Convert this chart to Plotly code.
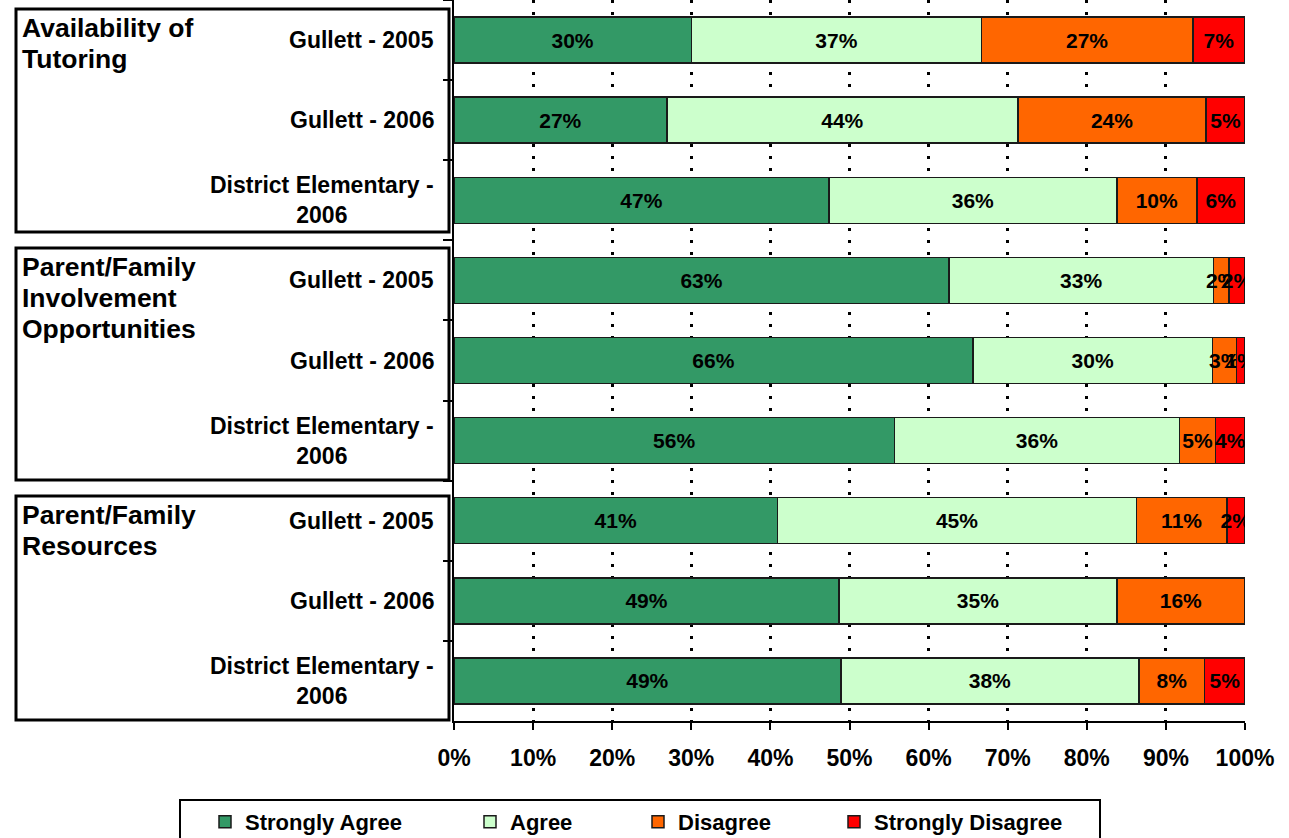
import plotly.graph_objects as go

# ---------------- data ----------------
groups = ["Availability of<br>Tutoring",
          "Parent/Family<br>Involvement<br>Opportunities",
          "Parent/Family<br>Resources"]
rows = ["Gullett - 2005", "Gullett - 2006", "District Elementary -<br>2006"]
series_names = ["Strongly Agree", "Agree", "Disagree", "Strongly Disagree"]

strongly_agree    = [30.0, 26.9, 47.4, 62.6, 65.6, 55.7, 40.9, 48.7, 48.9]
agree             = [36.7, 44.4, 36.4, 33.4, 30.3, 36.0, 45.4, 35.1, 37.7]
disagree          = [26.7, 23.8, 10.1, 2.0, 3.0, 4.6, 11.4, 16.2, 8.3]
strongly_disagree = [6.6, 4.9, 6.1, 2.0, 1.1, 3.7, 2.3, 0.0, 5.1]

x_ticks = [0, 10, 20, 30, 40, 50, 60, 70, 80, 90, 100]
x_tick_labels = ["0%", "10%", "20%", "30%", "40%", "50%", "60%", "70%", "80%", "90%", "100%"]

# ---------------- styling ----------------
colors = ["#339966", "#CCFFCC", "#FF6600", "#FF0000"]
FONT = "Liberation Sans, Arial, sans-serif"
W, H = 1289, 838
L, R, T, B = 454, 44, 0, 117
PW, PH = W - L - R, H - T - B


def px_x(px):
    return (px - L) / PW


def px_y(py):
    return (H - B - py) / PH


# unique category keys
keys = [f"{g}|{r}" for g in groups for r in rows]
row_labels = [r for g in groups for r in rows]

fig = go.Figure()
all_series = [strongly_agree, agree, disagree, strongly_disagree]
legend_lefts = [205, 470, 638, 834]
legend_ids = ["legend", "legend2", "legend3", "legend4"]
for i, (name, vals, col) in enumerate(zip(series_names, all_series, colors)):
    fig.add_trace(go.Bar(
        y=keys, x=vals, name=name, orientation="h",
        marker=dict(color=col, line=dict(color="#1a1a1a", width=1.5)),
        text=[f"{v:.0f}%" if v > 0 else "" for v in vals],
        textposition="inside", insidetextanchor="middle",
        textangle=0, constraintext="none",
        textfont=dict(family=FONT, size=21, color="black", weight="bold"),
        legend=legend_ids[i],
        hoverinfo="skip",
    ))

# legends (one per series for spacing as in reference)
leg_common = dict(orientation="h", yanchor="middle", xanchor="left",
                  bgcolor="rgba(0,0,0,0)", borderwidth=0,
                  font=dict(family=FONT, size=22, color="black", weight="bold"))
layout_legends = {}
for lid, left in zip(legend_ids, legend_lefts):
    layout_legends[lid] = dict(leg_common, x=px_x(left), y=px_y(822))

# row label annotations
annotations = []
for k, lab in zip(keys, row_labels):
    annotations.append(dict(
        x=px_x(436), xref="paper", y=k, yref="y",
        text=lab, showarrow=False, xanchor="right", yanchor="middle",
        align="center",
        font=dict(family=FONT, size=23, color="black", weight="bold")))

# group boxes & labels
box_tops = [9, 248, 496]
box_bottoms = [232, 480, 720]
shapes = []
for g, t, b in zip(groups, box_tops, box_bottoms):
    shapes.append(dict(type="rect", xref="paper", yref="paper",
                       x0=px_x(16), x1=px_x(449), y0=px_y(b), y1=px_y(t),
                       line=dict(color="black", width=3), fillcolor="rgba(0,0,0,0)"))
    for j, line in enumerate(g.split("<br>")):
        annotations.append(dict(
            x=px_x(20), xref="paper", y=px_y(t + 19 + 31 * j), yref="paper",
            text=line, showarrow=False, xanchor="left", yanchor="middle", align="left",
            font=dict(family=FONT, size=26.5, color="black", weight="bold")))

# legend box
shapes.append(dict(type="rect", xref="paper", yref="paper",
                   x0=px_x(180), x1=px_x(1100), y0=px_y(850), y1=px_y(800),
                   line=dict(color="black", width=2), fillcolor="rgba(0,0,0,0)"))

fig.update_layout(
    width=W, height=H,
    margin=dict(l=L, r=R, t=T, b=B, autoexpand=False),
    barmode="stack", bargap=0.426,
    plot_bgcolor="white", paper_bgcolor="white",
    font=dict(family=FONT, color="black"),
    shapes=shapes, annotations=annotations,
    showlegend=True,
    **layout_legends,
)
fig.update_xaxes(
    range=[0, 100], tickvals=x_ticks, ticktext=x_tick_labels,
    showgrid=True, gridcolor="black", gridwidth=2.5, griddash="3px,9px",
    showline=True, linecolor="black", linewidth=2,
    ticks="outside", ticklen=7, tickwidth=2, tickcolor="black",
    ticklabelstandoff=8,
    tickfont=dict(family=FONT, size=23, color="black", weight="bold"),
    zeroline=False, fixedrange=True,
)
fig.update_yaxes(
    type="category", categoryorder="array", categoryarray=keys,
    autorange="reversed", showticklabels=False,
    tickson="boundaries", ticks="outside", ticklen=9, tickwidth=2, tickcolor="black",
    showline=True, linecolor="black", linewidth=2, showgrid=False,
    fixedrange=True,
)

fig.write_html(
    "out.html",
    config={"displayModeBar": False},
    post_script="document.body.style.margin='0';document.body.style.overflow='hidden';",
)
